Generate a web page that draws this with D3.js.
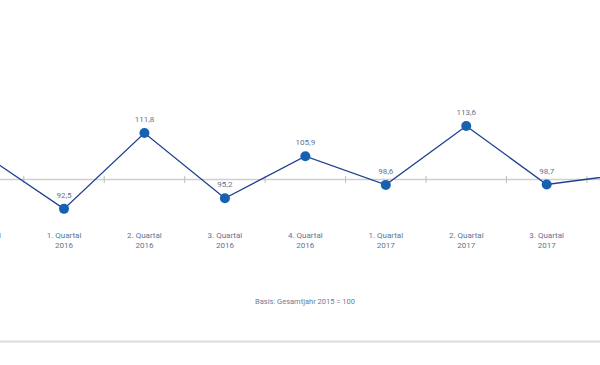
<!DOCTYPE html>
<html>
<head>
<meta charset="utf-8">
<script src="https://cdn.jsdelivr.net/npm/d3@7"></script>
<style>
  html, body { margin: 0; padding: 0; background: #fff; }
  svg { display: block; font-family: Roboto, "DejaVu Sans", sans-serif; }
</style>
</head>
<body>
<div id="container"></div>
<script>
// quarterly index, Gesamtjahr 2015 = 100 (first and last points sit outside the visible area)
const quarters = ["4. Quartal", "1. Quartal", "2. Quartal", "3. Quartal", "4. Quartal",
                  "1. Quartal", "2. Quartal", "3. Quartal", "4. Quartal"];
const years = ["2015", "2016", "2016", "2016", "2016", "2017", "2017", "2017", "2017"];
const values = [106.4, 92.5, 111.8, 95.2, 105.9, 98.6, 113.6, 98.7, 101.4];
const baseValue = 100;
const note = "Basis: Gesamtjahr 2015 = 100";

const width = 600;
const height = 365;
const data = values.map((v, i) => ({i, q: quarters[i], year: years[i], value: v}));

const svg = d3.select("#container").append("svg")
    .attr("width", width)
    .attr("height", height)
    .attr("viewBox", [0, 0, width, height]);

// points are spaced ~80px apart, the outer two fall just outside the frame
const x = d3.scaleLinear([1, 7], [64, 546.7]);
const y = d3.scaleLinear([100, 113.6], [179.4, 126]);
const step = x(1) - x(0);

// baseline at 100
svg.append("line")
    .attr("x1", 0)
    .attr("x2", width)
    .attr("y1", y(baseValue))
    .attr("y2", y(baseValue))
    .attr("stroke", "#cfcfcf")
    .attr("stroke-width", 1.5);

// small ticks between the quarters
svg.append("g")
    .attr("stroke", "#bdbdbd")
    .selectAll("line")
    .data(d3.range(0, values.length - 1))
    .join("line")
      .attr("x1", d => x(d) + step / 2)
      .attr("x2", d => x(d) + step / 2)
      .attr("y1", y(baseValue) - 3.5)
      .attr("y2", y(baseValue) + 3.5);

const line = d3.line()
    .x(d => x(d.i))
    .y(d => y(d.value));

svg.append("path")
    .datum(data)
    .attr("fill", "none")
    .attr("stroke", "#1f3f8f")
    .attr("stroke-width", 1.3)
    .attr("d", line);

svg.append("g")
    .selectAll("circle")
    .data(data)
    .join("circle")
      .attr("cx", d => x(d.i))
      .attr("cy", d => y(d.value))
      .attr("r", 5)
      .attr("fill", "#1661b0");

svg.append("g")
    .attr("fill", "#5f7391")
    .attr("font-size", 8)
    .attr("text-anchor", "middle")
    .selectAll("text")
    .data(data)
    .join("text")
      .attr("x", d => x(d.i))
      .attr("y", d => y(d.value) - 11)
      .text(d => d3.format(".1f")(d.value).replace(".", ","));

const cat = svg.append("g")
    .attr("fill", "#5f7391")
    .attr("font-size", 8)
    .attr("text-anchor", "middle")
    .selectAll("text")
    .data(data)
    .join("text")
      .attr("x", d => x(d.i))
      .attr("y", 238);
cat.append("tspan")
    .attr("x", d => x(d.i))
    .text(d => d.q);
cat.append("tspan")
    .attr("x", d => x(d.i))
    .attr("dy", 10)
    .text(d => d.year);

svg.append("text")
    .attr("x", 305)
    .attr("y", 304)
    .attr("fill", "#6a7d99")
    .attr("font-size", 7.5)
    .attr("text-anchor", "middle")
    .text(note);

// separator at the bottom
svg.append("line")
    .attr("x1", 0)
    .attr("x2", width)
    .attr("y1", 341.5)
    .attr("y2", 341.5)
    .attr("stroke", "#dcdcdc")
    .attr("stroke-width", 2);
</script>
</body>
</html>
